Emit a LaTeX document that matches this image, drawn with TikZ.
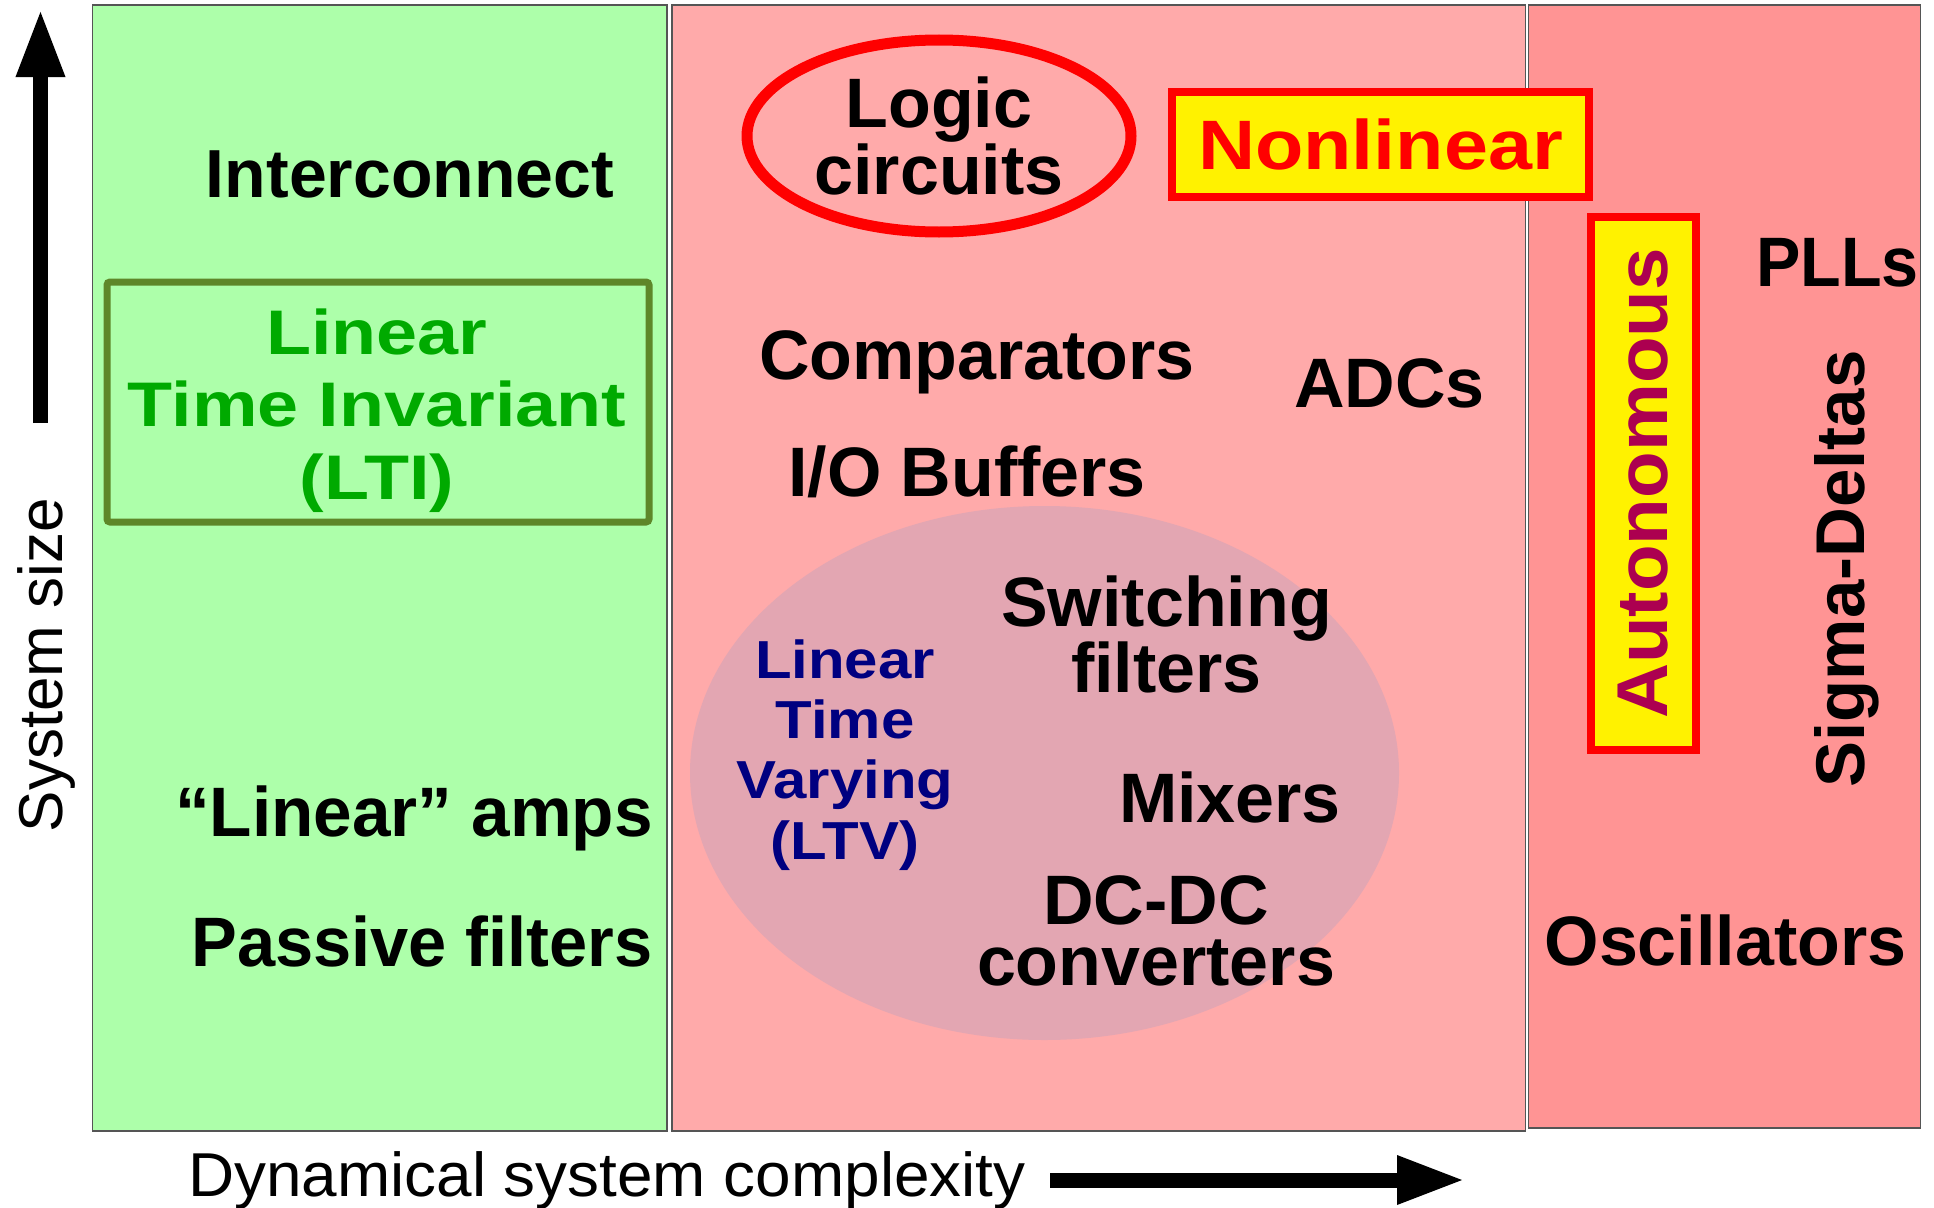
\documentclass[tikz,border=0pt]{standalone}
\usepackage{fontspec}
\setmainfont{Liberation Sans}
\usetikzlibrary{arrows.meta,shapes.geometric}

\definecolor{ltibg}{RGB}{173,255,170}
\definecolor{nlbg}{RGB}{255,170,170}
\definecolor{autobg}{RGB}{255,148,148}
\definecolor{ltvbg}{RGB}{227,166,178}
\definecolor{ltiedge}{RGB}{94,135,41}
\definecolor{ltitext}{RGB}{0,170,0}
\definecolor{ltvtext}{RGB}{0,0,128}
\definecolor{autotext}{RGB}{172,0,80}
\definecolor{edgegray}{RGB}{85,85,85}

\newcommand{\wide}[2]{\scalebox{#1}[1]{#2}}

\begin{document}
\begin{tikzpicture}[x=1pt,y=1pt,yscale=-1,
  lbl/.style={font=\fontsize{70}{61}\selectfont\bfseries, inner sep=0pt, align=center, anchor=base},
  panel/.style={draw=edgegray, line width=1.5pt},
  axis/.style={line width=15pt, -{Triangle[length=68pt,width=45pt]}},
  tag/.style={draw=red, fill=yellow, line width=8pt, inner sep=0pt, minimum height=105pt}]
\useasboundingbox (0,0) rectangle (1934,1207);
%Shape: panels
\filldraw[panel, fill=ltibg] (92.5,5) rectangle (667,1131);
\filldraw[panel, fill=nlbg] (672,5) rectangle (1525.7,1131);
\filldraw[panel, fill=autobg] (1528.5,5) rectangle (1920.5,1128);
%Shape: LTV region
\fill[ltvbg] (1044.5,773) ellipse [x radius=354.5, y radius=267];
%Shape: LTI box
\node[draw=ltiedge, line width=7pt, rounded corners=3pt, minimum width=542pt, minimum height=240pt, inner sep=0pt] (ltibox) at (378,402) {};
% Text Node (multi-line nodes sit on their last baseline)
\node[lbl, text=ltitext, font=\fontsize{63}{72.3}\selectfont\bfseries] (lti) at (377,499)
  {\wide{1.17}{Linear}\\\wide{1.17}{Time Invariant}\\\wide{1.17}{(LTI)}};
\node[lbl, font=\fontsize{68}{61}\selectfont\bfseries] (intercon) at (410,197) {Interconnect};
\node[lbl, anchor=base east] (linamps) at (653,836) {\wide{0.99}{“Linear”\ amps}};
\node[lbl, anchor=base east] (passive) at (653,966.7) {\wide{0.98}{Passive filters}};
% Text Node
\node[lbl] (comp) at (977,379.6) {Comparators};
\node[lbl] (adc) at (1389.5,407) {ADCs};
\node[lbl] (iobuf) at (967,496) {I/O Buffers};
\node[lbl] (switch) at (1166.5,692.7) {Switching\\filters};
\node[lbl] (mixer) at (1230,822) {Mixers};
\node[lbl] (dcdc) at (1156,985) {DC-DC\\converters};
\node[lbl, text=ltvtext, font=\fontsize{53.5}{60.3}\selectfont\bfseries] (ltv) at (845,859)
  {\wide{1.12}{Linear}\\\wide{1.12}{Time}\\\wide{1.12}{Varying}\\\wide{1.12}{(LTV)}};
% Text Node
\node[lbl] (pll) at (1837.5,286) {\wide{0.95}{PLLs}};
\node[lbl] (osc) at (1725.5,965) {Oscillators};
\node[lbl, rotate=90, font=\fontsize{69}{61}\selectfont\bfseries] (sigdel) at (1864,569) {Sigma-Deltas};
%Shape: Logic ellipse
\node[ellipse, draw=red, line width=11pt, minimum width=384pt, minimum height=192pt, inner sep=0pt,
  align=center, font=\fontsize{70}{61}\selectfont\bfseries] (logic) at (939,136) {Logic\\circuits};
%Shape: Nonlinear tag
\node[tag, minimum width=417pt, text=red, font=\fontsize{70}{61}\selectfont\bfseries] (nonlin) at (1380.5,144) {\wide{1.13}{Nonlinear}};
\node[tag, rotate=90, minimum width=533pt, text=autotext, font=\fontsize{72}{61}\selectfont\bfseries] (auton) at (1643.5,483.5) {\wide{1.06}{Autonomous}};
%Shape: axes
\coordinate (ybot) at (40.5,423);
\coordinate (ytop) at (40.5,9);
\draw[axis] (ybot) -- (ytop);
\node[rotate=90, anchor=base, inner sep=0pt, font=\fontsize{62}{62}\selectfont] (ysize) at (62,665) {System size};
\node[anchor=base west, inner sep=0pt, font=\fontsize{62}{62}\selectfont] (xlabel) at (188,1196.5) {\wide{1.03}{Dynamical system complexity}};
\coordinate (xbeg) at (1050,1180);
\coordinate (xend) at (1465,1180);
\draw[axis] (xbeg) -- (xend);
\end{tikzpicture}
\end{document}
